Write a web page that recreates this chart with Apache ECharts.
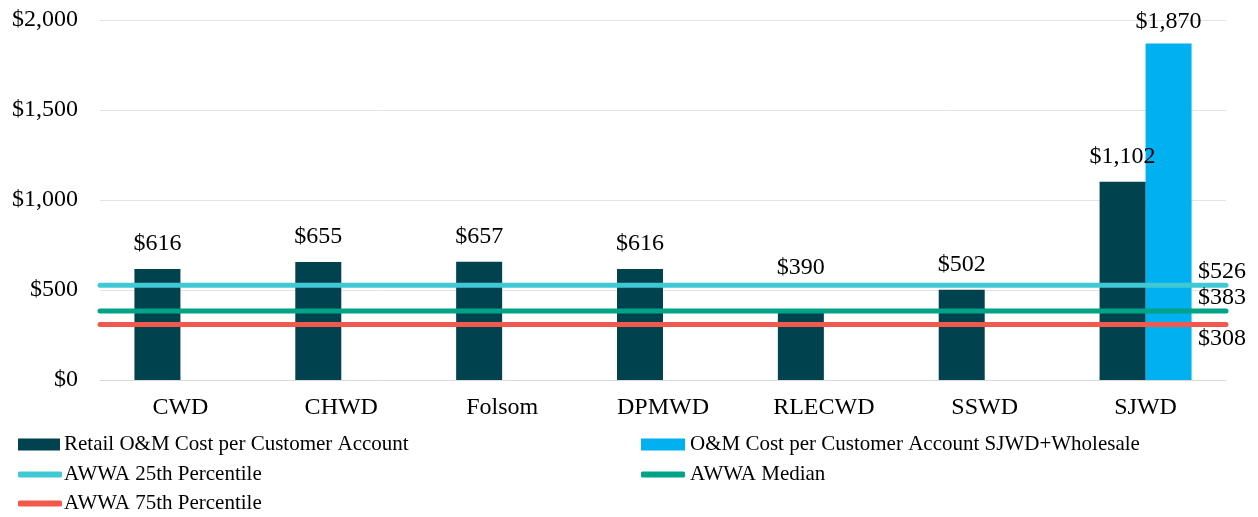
<!DOCTYPE html>
<html>
<head>
<meta charset="utf-8">
<script src="https://cdn.jsdelivr.net/npm/echarts@6/dist/echarts.min.js"></script>
<style>
  html, body { margin: 0; padding: 0; background: #fff; }
  #chart { width: 1258px; height: 517px; }
</style>
</head>
<body>
<div id="chart"></div>
<script>
// 数据
const categories = ['CWD', 'CHWD', 'Folsom', 'DPMWD', 'RLECWD', 'SSWD', 'SJWD'];
const retailCost = [616, 655, 657, 616, 390, 502, 1102];
const wholesaleCost = [null, null, null, null, null, null, 1870];
const awwa25 = [526, 526, 526, 526, 526, 526, 526];
const awwaMedian = [383, 383, 383, 383, 383, 383, 383];
const awwa75 = [308, 308, 308, 308, 308, 308, 308];
const yTicks = [0, 500, 1000, 1500, 2000];

const FONT = '"Liberation Serif", "DejaVu Serif", serif';
const NAMES = {
  retail: 'Retail O&M Cost per Customer Account',
  wholesale: 'O&M Cost per Customer Account SJWD+Wholesale',
  p25: 'AWWA 25th Percentile',
  median: 'AWWA Median',
  p75: 'AWWA 75th Percentile'
};

function money(v) {
  return '$' + Number(v).toLocaleString('en-US');
}

const chart = echarts.init(document.getElementById('chart'));

// 每个图例单独定位，模仿两列布局
function legendItem(name, left, top, w, h, textPad) {
  return {
    left: left, top: top, itemWidth: w, itemHeight: h, itemGap: 0,
    textStyle: { fontFamily: FONT, fontSize: 21, color: '#000', padding: [0, 0, 0, textPad] },
    data: [{ name: name, icon: h > 8 ? 'rect' : 'roundRect' }]
  };
}

function lineSeries(name, data, color, offsetY) {
  return {
    name: name,
    type: 'line',
    xAxisIndex: 1,
    data: data,
    symbol: 'none',
    lineStyle: { color: color, width: 5, cap: 'round' },
    itemStyle: { color: color },
    z: 5,
    endLabel: {
      show: true,
      formatter: p => money(p.value),
      fontFamily: FONT,
      fontSize: 24,
      color: '#000',
      offset: [-36, offsetY]
    }
  };
}

// RLECWD 标签在参考图中被上移到线上方
const retailData = retailCost.map((v, i) =>
  categories[i] === 'RLECWD' ? { value: v, label: { distance: 30 } } : v
);

const option = {
  animation: false,
  textStyle: { fontFamily: FONT },
  grid: { left: 100, right: 32, top: 20, bottom: 137 },
  legend: [
    legendItem(NAMES.retail, 13, 429, 42, 12, -1),
    legendItem(NAMES.p25, 13, 459, 44, 6, -3),
    legendItem(NAMES.p75, 13, 488, 44, 6, -3),
    legendItem(NAMES.wholesale, 636, 429, 44, 12, 0),
    legendItem(NAMES.median, 636, 459, 44, 6, 0)
  ],
  xAxis: [
    {
      type: 'category',
      data: categories,
      axisLine: { lineStyle: { color: '#d9d9d9' } },
      axisTick: { show: false },
      axisLabel: { fontFamily: FONT, fontSize: 24, color: '#000', margin: 16 }
    },
    {
      type: 'category',
      data: categories,
      boundaryGap: false,
      show: false
    }
  ],
  yAxis: {
    type: 'value',
    min: 0,
    max: 2000,
    interval: 500,
    axisLine: { show: false },
    axisTick: { show: false },
    splitLine: { lineStyle: { color: '#e3e3e3', width: 1 } },
    axisLabel: {
      fontFamily: FONT, fontSize: 24, color: '#000', margin: 22,
      formatter: v => yTicks.includes(v) ? money(v) : ''
    }
  },
  series: [
    {
      name: NAMES.retail,
      type: 'bar',
      data: retailData,
      barWidth: 46,
      barGap: '0%',
      itemStyle: { color: '#00434e' },
      label: {
        show: true, position: 'top', distance: 13,
        fontFamily: FONT, fontSize: 24, color: '#000',
        formatter: p => money(p.value)
      },
      z: 3
    },
    {
      name: NAMES.wholesale,
      type: 'bar',
      data: wholesaleCost,
      barWidth: 46,
      itemStyle: { color: '#00b0f0' },
      label: {
        show: true, position: 'top', distance: 10,
        fontFamily: FONT, fontSize: 24, color: '#000',
        formatter: p => p.value == null ? '' : money(p.value)
      },
      z: 2
    },
    lineSeries(NAMES.p25, awwa25, '#40c9d5', -14),
    lineSeries(NAMES.median, awwaMedian, '#00a386', -13),
    lineSeries(NAMES.p75, awwa75, '#f0594b', 14)
  ]
};

chart.setOption(option);

window.addEventListener('resize', function () {
  chart.resize();
});
</script>
</body>
</html>
